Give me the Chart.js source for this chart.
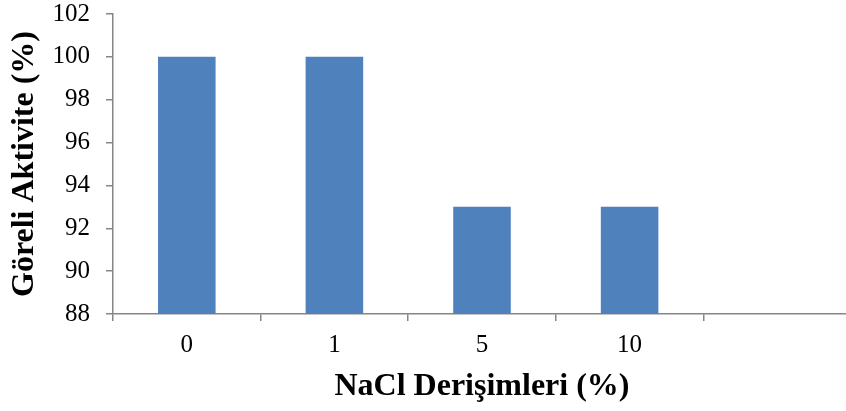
<!DOCTYPE html>
<html>
<head>
<meta charset="utf-8">
<script src="https://cdn.jsdelivr.net/npm/chart.js@4/dist/chart.umd.min.js"></script>
<style>
  html, body { margin: 0; padding: 0; background: #fff; overflow: hidden; }
  #wrap { width: 851px; height: 411px; }
</style>
</head>
<body>
<div id="wrap"><canvas id="c" width="851" height="411"></canvas></div>
<script>
// NaCl concentrations (%) – the fifth slot is an empty category on the axis
const categories = ['0', '1', '5', '10', ''];
// Relative activity (%)
const relativeActivity = [100, 100, 93, 93, null];
const yTicks = [88, 90, 92, 94, 96, 98, 100, 102];

const axisGray = '#868686';
const serif = "'Liberation Serif', 'Times New Roman', serif";

new Chart(document.getElementById('c'), {
  type: 'bar',
  data: {
    labels: categories,
    datasets: [{
      data: relativeActivity,
      backgroundColor: '#4F81BD',
      borderWidth: 0,
      barPercentage: 0.39,
      categoryPercentage: 1.0
    }]
  },
  options: {
    responsive: false,
    animation: false,
    layout: { padding: { top: 14, right: 0, left: 0, bottom: 0 } },
    plugins: { legend: { display: false }, tooltip: { enabled: false } },
    scales: {
      x: {
        offset: true,
        grid: {
          offset: true,
          drawOnChartArea: false,
          drawTicks: true,
          tickLength: 7,
          color: axisGray,
          lineWidth: 1.5
        },
        border: { color: axisGray, width: 1.5 },
        ticks: {
          color: '#000',
          font: { family: serif, size: 25 },
          padding: 9,
          maxRotation: 0
        },
        title: {
          display: true,
          text: 'NaCl Derişimleri (%)',
          color: '#000',
          font: { family: serif, size: 32, weight: 'bold' },
          padding: { top: 0, bottom: 5 }
        },
        afterFit: s => { s.height = 97; s.paddingLeft = 0; s.paddingRight = 0; }
      },
      y: {
        min: 88,
        max: 102,
        afterBuildTicks: s => { s.ticks = yTicks.map(v => ({ value: v })); },
        grid: {
          drawOnChartArea: false,
          drawTicks: true,
          tickLength: 7,
          color: axisGray,
          lineWidth: 1.5
        },
        border: { color: axisGray, width: 1.5 },
        ticks: {
          color: '#000',
          font: { family: serif, size: 25 },
          padding: 16
        },
        title: {
          display: true,
          text: 'Göreli Aktivite (%)',
          color: '#000',
          font: { family: serif, size: 32, weight: 'bold' },
          padding: { top: 6, bottom: 0 }
        },
        afterFit: s => { s.width = 113; s.paddingTop = 0; s.paddingBottom = 0; }
      }
    }
  }
});
</script>
</body>
</html>
